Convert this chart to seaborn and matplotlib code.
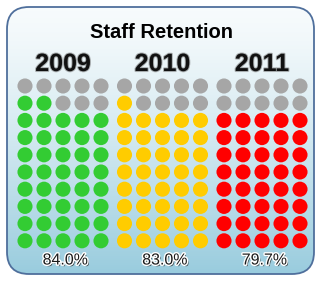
import numpy as np
import pandas as pd
import matplotlib
matplotlib.use("Agg")
import matplotlib.pyplot as plt
import seaborn as sns
from matplotlib.patches import FancyBboxPatch
import matplotlib.patheffects as pe

# ---- data ----
years = ["2009", "2010", "2011"]
retention = [84.0, 83.0, 79.7]          # percent
filled_dots = [42, 41, 40]              # of 50 dots per year
colors_filled = ["#33CC33", "#FFCC00", "#FF0000"]
grey = "#A6A6A6"
n_cols, n_rows = 5, 10

# ---- build dot table ----
rows = []
for g, (yr, nf) in enumerate(zip(years, filled_dots)):
    for r in range(n_rows):
        for c in range(n_cols):
            p = (n_rows - 1 - r) * n_cols + c
            status = yr if p < nf else "rest"
            rows.append({"year": yr, "group": g, "row": r, "col": c, "status": status})
df = pd.DataFrame(rows)
# layout (pixel positions)
gx0, gstep, cstep = 25.0, 99.5, 19.0
ry0, rstep = 86.0, 17.2
df["x"] = gx0 + df["group"] * gstep + df["col"] * cstep
df["y"] = ry0 + df["row"] * rstep

palette = {yr: col for yr, col in zip(years, colors_filled)}
palette["rest"] = grey

W, H = 325, 285
fig = plt.figure(figsize=(W / 100, H / 100), dpi=100)
ax = fig.add_axes([0, 0, 1, 1])
ax.set_xlim(0, W)
ax.set_ylim(H, 0)
ax.axis("off")

# rounded box with gradient
bx0, by0, bx1, by1 = 7, 7, 314, 274
box = FancyBboxPatch((bx0, by0), bx1 - bx0, by1 - by0,
                     boxstyle="round,pad=0,rounding_size=22",
                     facecolor="none", edgecolor="#4F6F9C", linewidth=1.3, zorder=3)
ax.add_patch(box)
grad = np.linspace(0, 1, 256)[:, None]
top = np.array([0.97, 0.985, 0.99])
bot = np.array([0.60, 0.80, 0.87])
img = top[None, None, :] * (1 - grad[..., None] ** 1.3) + bot[None, None, :] * (grad[..., None] ** 1.3)
im = ax.imshow(img, extent=(bx0, bx1, by1, by0), aspect="auto", zorder=0)
clip = FancyBboxPatch((bx0, by0), bx1 - bx0, by1 - by0,
                      boxstyle="round,pad=0,rounding_size=22",
                      facecolor="none", edgecolor="none", transform=ax.transData)
ax.add_patch(clip)
im.set_clip_path(clip)

sns.scatterplot(data=df, x="x", y="y", hue="status", palette=palette,
                s=118, linewidth=0, legend=False, ax=ax, zorder=4)
ax.set_xlim(0, W)
ax.set_ylim(H, 0)
ax.axis("off")

font = "Liberation Sans"
ax.text(W / 2 - 1, 33, "Staff Retention", ha="center", va="center",
        fontsize=14.5, fontweight="bold", family=font, color="black", zorder=5)

for g, (yr, v) in enumerate(zip(years, retention)):
    cx = gx0 + g * gstep + 2 * cstep
    ax.text(cx, 64, yr, ha="center", va="center", fontsize=18, fontweight="bold",
            family=font, color="#111111", zorder=5,
            path_effects=[pe.Stroke(linewidth=1.5, foreground="#666666", alpha=0.5), pe.Normal()])
    ax.text(cx + 2.5, 260, f"{v:.1f}%", ha="center", va="center", fontsize=11.5,
            family=font, color="#1a1a1a", zorder=5,
            path_effects=[pe.withSimplePatchShadow(offset=(1.2, -1.2), shadow_rgbFace="#222222", alpha=0.75),
                          pe.Stroke(linewidth=2.0, foreground="white"), pe.Normal()])

fig.savefig("out.png", dpi=100)
